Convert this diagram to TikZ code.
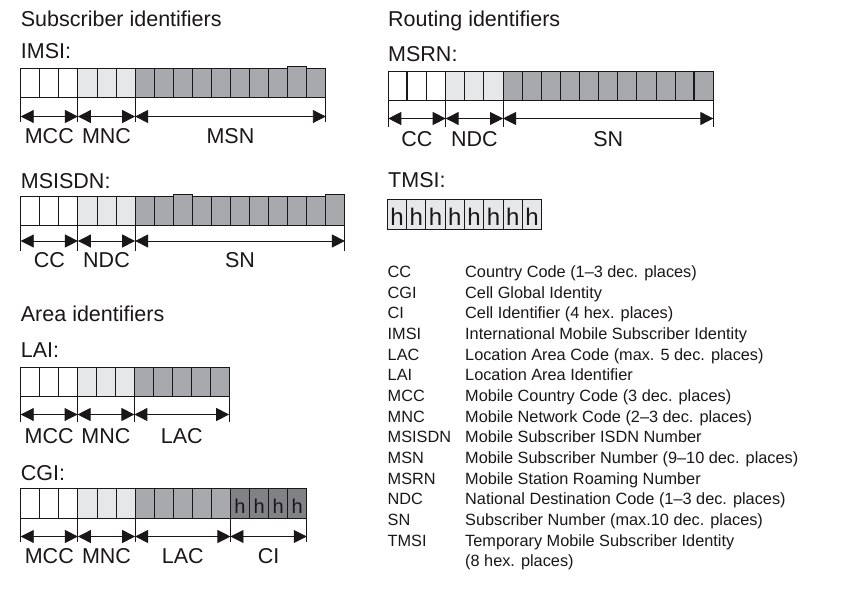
\documentclass[tikz,border=0pt]{standalone}
\usepackage{fontspec}
\setmainfont{Liberation Sans}
\usetikzlibrary{arrows.meta}
\definecolor{ink}{HTML}{1A1718}
\definecolor{lt}{HTML}{E6E7E8}
\definecolor{dk}{HTML}{A7A9AC}
\definecolor{dkr}{HTML}{808285}
\tikzset{
  cell/.style={draw=ink, line width=0.9pt},
  tickline/.style={draw=ink, line width=0.9pt},
  span/.style={draw=ink, line width=0.9pt, {Triangle[length=13pt,width=13pt]}-{Triangle[length=13pt,width=13pt]}},
  head/.style={anchor=base west, inner sep=0pt, text=ink, font=\fontsize{21.5}{24}\selectfont},
  lbl/.style={anchor=base, inner sep=0pt, text=ink, font=\fontsize{21.5}{24}\selectfont},
  hsmall/.style={anchor=base, inner sep=0pt, text=ink, font=\fontsize{20}{22}\selectfont},
  hbig/.style={anchor=base, inner sep=0pt, text=ink, font=\fontsize{24}{26}\selectfont},
  lg/.style={anchor=base west, inner sep=0pt, text=ink, font=\fontsize{16.3}{19}\selectfont},
}
\begin{document}
\begin{tikzpicture}[x=1pt,y=-1pt]
\useasboundingbox[fill=white] (0,0) rectangle (851,594);

% ---------- headings
\node[head] (hsub) at (20.7,26.7) {Subscriber identifiers};
\node[head] (himsi) at (20.7,58.3) {IMSI:};
\node[head] (hmsisdn) at (20.7,188.3) {MSISDN:};
\node[head] (harea) at (20.7,321.7) {Area identifiers};
\node[head] (hlai) at (20.7,357.3) {LAI:};
\node[head] (hcgi) at (20.7,480) {CGI:};
\node[head] (hrout) at (388,26.7) {Routing identifiers};
\node[head] (hmsrn) at (388,62) {MSRN:};
\node[head] (htmsi) at (388,187.3) {TMSI:};

% ---------- IMSI
\def\w{19.07}
\foreach \c [count=\i from 0] in {white,white,white,lt,lt,lt,dk,dk,dk,dk,dk,dk,dk,dk,dk,dk}
  \draw[cell, fill=\c] ({20.7+\i*\w},68) rectangle ++(\w,29.5);
\draw[cell, fill=dk] ({20.7+14*\w},66.8) rectangle ++(\w,30.7);
\foreach \k/\n in {0/a,3/b,6/c,16/d}{
  \coordinate (imsi-\n) at ({20.7+\k*\w},116.5);
  \draw[tickline] ({20.7+\k*\w},97.5) -- ({20.7+\k*\w},122);
}
\draw[span] (imsi-a) -- (imsi-b);
\draw[span] (imsi-b) -- (imsi-c);
\draw[span] (imsi-c) -- (imsi-d);
\node[lbl] (imsi-l1) at ({20.7+1.5*\w},143.5) {MCC};
\node[lbl] (imsi-l2) at ({20.7+4.5*\w},143.5) {MNC};
\node[lbl] (imsi-l3) at ({20.7+11*\w},143.5) {MSN};

% ---------- MSISDN
\foreach \c [count=\i from 0] in {white,white,white,lt,lt,lt,dk,dk,dk,dk,dk,dk,dk,dk,dk,dk,dk}
  \draw[cell, fill=\c] ({20.7+\i*\w},196) rectangle ++(\w,29.5);
\draw[cell, fill=dk] ({20.7+8*\w},194.8) rectangle ++(\w,30.7);
\draw[cell, fill=dk] ({20.7+16*\w},194.8) rectangle ++(\w,30.7);
\foreach \k/\n in {0/a,3/b,6/c,17/d}{
  \coordinate (msisdn-\n) at ({20.7+\k*\w},241);
  \draw[tickline] ({20.7+\k*\w},225.5) -- ({20.7+\k*\w},251);
}
\draw[span] (msisdn-a) -- (msisdn-b);
\draw[span] (msisdn-b) -- (msisdn-c);
\draw[span] (msisdn-c) -- (msisdn-d);
\node[lbl] (msisdn-l1) at ({20.7+1.5*\w},267) {CC};
\node[lbl] (msisdn-l2) at ({20.7+4.5*\w},267) {NDC};
\node[lbl] (msisdn-l3) at ({20.7+11.5*\w},267) {SN};

% ---------- LAI
\def\wl{18.95}
\foreach \c [count=\i from 0] in {white,white,white,lt,lt,lt,dk,dk,dk,dk,dk}
  \draw[cell, fill=\c] ({20.7+\i*\wl},367) rectangle ++(\wl,29.5);
\foreach \k/\n in {0/a,3/b,6/c,11/d}{
  \coordinate (lai-\n) at ({20.7+\k*\wl},414.5);
  \draw[tickline] ({20.7+\k*\wl},396.5) -- ({20.7+\k*\wl},422);
}
\draw[span] (lai-a) -- (lai-b);
\draw[span] (lai-b) -- (lai-c);
\draw[span] (lai-c) -- (lai-d);
\node[lbl] (lai-l1) at ({20.7+1.5*\wl},443) {MCC};
\node[lbl] (lai-l2) at ({20.7+4.5*\wl},443) {MNC};
\node[lbl] (lai-l3) at ({20.7+8.5*\wl},443) {LAC};

% ---------- CGI
\foreach \c [count=\i from 0] in {white,white,white,lt,lt,lt,dk,dk,dk,dk,dk,dkr,dkr,dkr,dkr}
  \draw[cell, fill=\c] ({20.7+\i*\w},488.5) rectangle ++(\w,29.5);
\foreach \i in {11,...,14}
  \node[hsmall] (cgi-h\i) at ({20.7+(\i+0.5)*\w},513.5) {h};
\foreach \k/\n in {0/a,3/b,6/c,11/d,15/e}{
  \coordinate (cgi-\n) at ({20.7+\k*\w},536.5);
  \draw[tickline] ({20.7+\k*\w},518) -- ({20.7+\k*\w},542);
}
\draw[span] (cgi-a) -- (cgi-b);
\draw[span] (cgi-b) -- (cgi-c);
\draw[span] (cgi-c) -- (cgi-d);
\draw[span] (cgi-d) -- (cgi-e);
\node[lbl] (cgi-l1) at ({20.7+1.5*\w},563) {MCC};
\node[lbl] (cgi-l2) at ({20.7+4.5*\w},563) {MNC};
\node[lbl] (cgi-l3) at ({20.7+8.5*\w},563) {LAC};
\node[lbl] (cgi-l4) at ({20.7+13*\w},563) {CI};

% ---------- MSRN
\def\wr{19.12}
\foreach \c [count=\i from 0] in {white,white,white,lt,lt,lt,dk,dk,dk,dk,dk,dk,dk,dk,dk,dk,dk}
  \draw[cell, fill=\c] ({388.3+\i*\wr},71) rectangle ++(\wr,29.5);
\draw[ink, line width=2pt] ({388.3+1*\wr},71) -- ({388.3+1*\wr},100.5);
\draw[ink, line width=2pt] ({388.3+16*\wr},71) -- ({388.3+16*\wr},100.5);
\foreach \k/\n in {0/a,3/b,6/c,17/d}{
  \coordinate (msrn-\n) at ({388.3+\k*\wr},118.5);
  \draw[tickline] ({388.3+\k*\wr},100.5) -- ({388.3+\k*\wr},126.5);
}
\draw[span] (msrn-a) -- (msrn-b);
\draw[span] (msrn-b) -- (msrn-c);
\draw[span] (msrn-c) -- (msrn-d);
\node[lbl] (msrn-l1) at ({388.3+1.5*\wr},146) {CC};
\node[lbl] (msrn-l2) at ({388.3+4.5*\wr},146) {NDC};
\node[lbl] (msrn-l3) at ({388.3+11.5*\wr},146) {SN};

% ---------- TMSI
\def\wt{19.3}
\foreach \i in {0,...,7}{
  \draw[cell, fill=lt] ({387.3+\i*\wt},199.5) rectangle ++(\wt,30);
  \node[hbig] (tmsi-h\i) at ({387.3+(\i+0.5)*\wt},225) {h};
}

% ---------- legend
\foreach \a/\d [count=\i from 0] in {
  CC/{Country Code (1–3 dec. places)},
  CGI/{Cell Global Identity},
  CI/{Cell Identifier (4 hex. places)},
  IMSI/{International Mobile Subscriber Identity},
  LAC/{Location Area Code (max. 5 dec. places)},
  LAI/{Location Area Identifier},
  MCC/{Mobile Country Code (3 dec. places)},
  MNC/{Mobile Network Code (2–3 dec. places)},
  MSISDN/{Mobile Subscriber ISDN Number},
  MSN/{Mobile Subscriber Number (9–10 dec. places)},
  MSRN/{Mobile Station Roaming Number},
  NDC/{National Destination Code (1–3 dec. places)},
  SN/{Subscriber Number (max.10 dec. places)},
  TMSI/{Temporary Mobile Subscriber Identity}}{
  \node[lg] (lga\i) at (387.5,{277.7+\i*20.64}) {\a};
  \node[lg] (lgd\i) at (465,{277.7+\i*20.64}) {\d};
}
\node[lg] (lgd14) at (465,{277.7+14*20.64}) {(8 hex. places)};
\end{tikzpicture}
\end{document}
